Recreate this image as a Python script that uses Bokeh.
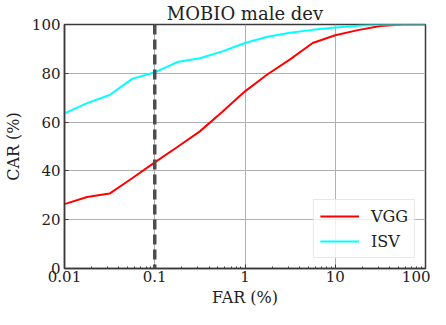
from bokeh.plotting import figure
from bokeh.models import FixedTicker, CustomJSTickFormatter, Legend, LegendItem, Span
from bokeh.embed import file_html
from bokeh.resources import INLINE

far = [0.01, 0.0178, 0.0316, 0.0562, 0.1, 0.178, 0.316, 0.562, 1.0, 1.78, 3.16, 5.62, 10.0, 17.8, 31.6, 56.2, 100.0]
vgg = [26.4, 29.3, 30.7, 37.0, 43.5, 49.8, 56.2, 64.2, 72.6, 79.6, 85.7, 92.4, 95.6, 97.7, 99.4, 100.0, 100.0]
isv = [63.6, 67.8, 71.1, 77.7, 80.4, 84.6, 86.2, 89.0, 92.4, 95.0, 96.6, 97.8, 98.8, 99.5, 100.0, 100.0, 100.0]
x_ticks = [0.01, 0.1, 1, 10, 100]
y_ticks = [0, 20, 40, 60, 80, 100]
threshold = 0.1

FONT = "DejaVu Serif"

p = figure(width=430, height=309, x_axis_type="log", x_range=(0.01, 100), y_range=(0, 100),
           output_backend="svg", toolbar_location=None, title="MOBIO male dev",
           min_border_left=58, min_border_right=5, min_border_top=22, min_border_bottom=41)

p.title.align = "center"
p.title.text_font = FONT
p.title.text_font_size = "18px"
p.title.text_font_style = "normal"
p.title.text_color = "#222222"
p.title.standoff = 1
p.title.offset = 0

p.outline_line_color = "#3a3a3a"
p.outline_line_width = 1.5

minor = [m * d for d in [0.01, 0.1, 1, 10] for m in range(2, 10)]
p.xaxis.ticker = FixedTicker(ticks=x_ticks, minor_ticks=minor)
p.xaxis.formatter = CustomJSTickFormatter(code="return tick.toString();")
p.yaxis.ticker = FixedTicker(ticks=y_ticks, minor_ticks=[])

for ax in (p.xaxis[0], p.yaxis[0]):
    ax.axis_line_color = "#3a3a3a"
    ax.axis_line_width = 1.5
    ax.major_tick_in = 4
    ax.major_tick_out = 0
    ax.minor_tick_in = 2
    ax.minor_tick_out = 0
    ax.major_tick_line_color = "#3a3a3a"
    ax.minor_tick_line_color = "#3a3a3a"
    ax.major_label_text_font = FONT
    ax.major_label_text_font_size = "15px"
    ax.major_label_text_color = "#222222"
    ax.axis_label_text_font = FONT
    ax.axis_label_text_font_size = "16px"
    ax.axis_label_text_font_style = "normal"
    ax.axis_label_text_color = "#222222"

p.xaxis.axis_label = "FAR (%)"
p.yaxis.axis_label = "CAR (%)"
p.xaxis.major_label_standoff = 2
p.xaxis.axis_label_standoff = 3
p.yaxis.major_label_standoff = 4
p.yaxis.axis_label_standoff = 6

p.xgrid.grid_line_color = "#b0b0b0"
p.ygrid.grid_line_color = "#b0b0b0"
p.xgrid.grid_line_width = 1
p.ygrid.grid_line_width = 1

r1 = p.line(far, vgg, line_color="#ff0000", line_width=2)
r2 = p.line(far, isv, line_color="#00ffff", line_width=2)

p.add_layout(Span(location=threshold, dimension="height", line_color="#4d4d4d",
                  line_width=3.5, line_dash="10 5"))

legend = Legend(items=[LegendItem(label="VGG", renderers=[r1]), LegendItem(label="ISV", renderers=[r2])],
                location="bottom_right")
legend.margin = 10
legend.padding = 6
legend.spacing = 5
legend.glyph_width = 39
legend.glyph_height = 20
legend.label_height = 20
legend.label_standoff = 12
legend.label_text_font = FONT
legend.label_text_font_size = "16px"
legend.label_text_color = "#222222"
legend.border_line_color = "#d0d0d0"
legend.background_fill_alpha = 0.8
p.add_layout(legend)

open("out.html", "w").write(file_html(p, INLINE))
